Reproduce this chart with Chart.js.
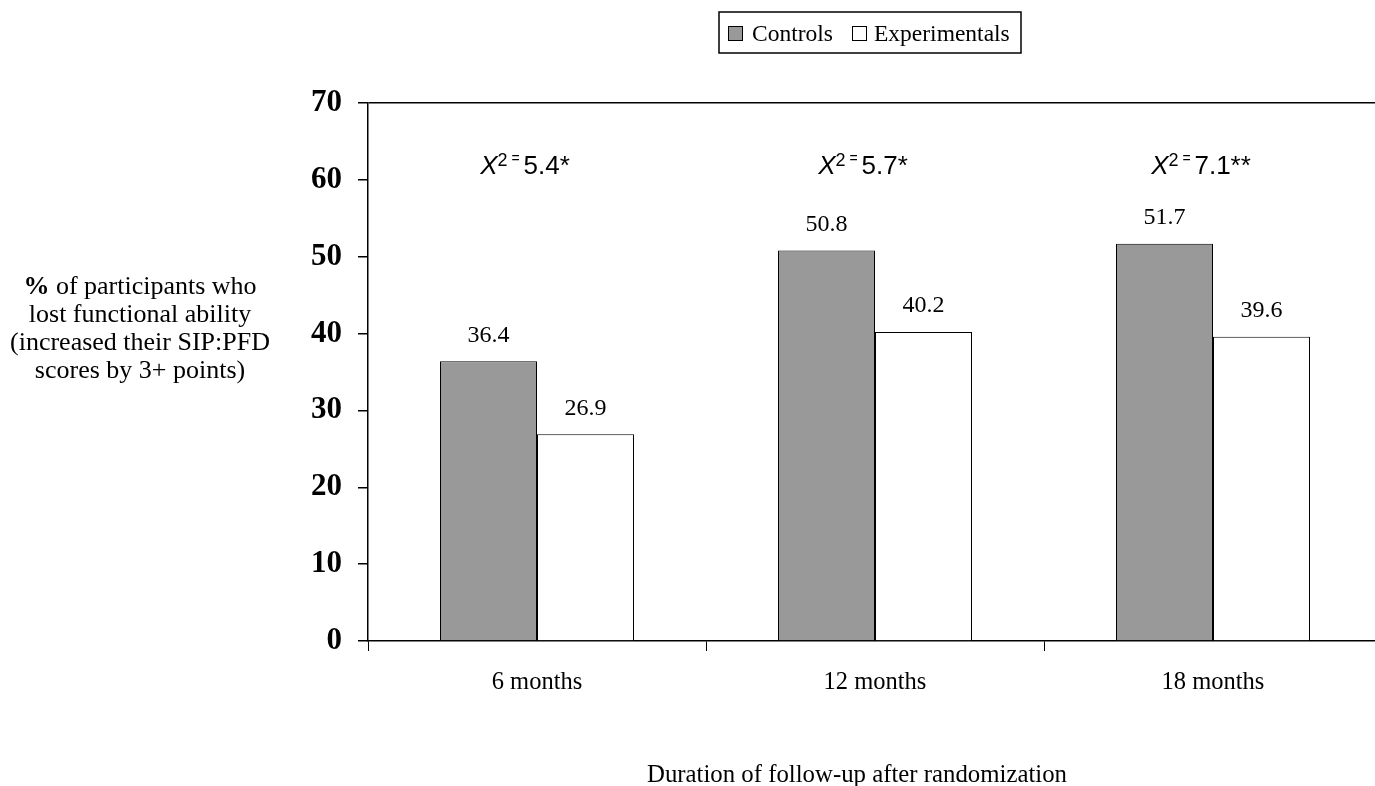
<!DOCTYPE html>
<html>
<head>
<meta charset="utf-8">
<script src="https://cdn.jsdelivr.net/npm/chart.js@4.4.1/dist/chart.umd.min.js"></script>
<style>
  html, body { margin: 0; padding: 0; background: #fff; overflow: hidden; }
  #wrap { width: 1390px; height: 786px; }
</style>
</head>
<body>
<div id="wrap"><canvas id="chart" width="1390" height="786"></canvas></div>
<script>
// Données du graphique
const categories = ['6 months', '12 months', '18 months'];
const controls = [36.4, 50.8, 51.7];
const experimentals = [26.9, 40.2, 39.6];
const chiValues = ['5.4*', '5.7*', '7.1**'];
const yTicks = [0, 10, 20, 30, 40, 50, 60, 70];

const serif = "'Liberation Serif', 'Times New Roman', serif";
const sans = "'Liberation Sans', Arial, sans-serif";

// Dessin des textes additionnels (étiquettes, légende, titres)
const extras = {
    id: 'extras',
    afterDatasetsDraw(chart) {
        const ctx = chart.ctx;
        const x = chart.scales.x;
        ctx.save();
        ctx.fillStyle = '#000';

        // Valeurs au-dessus des barres
        ctx.font = '24px ' + serif;
        ctx.textAlign = 'center';
        ctx.textBaseline = 'middle';
        chart.data.datasets.forEach((ds, di) => {
            chart.getDatasetMeta(di).data.forEach((bar, i) => {
                ctx.fillText(ds.data[i].toFixed(1), bar.x, bar.y - 26);
            });
        });

        // Annotations chi-deux
        chiValues.forEach((val, i) => {
            const cx = x.getPixelForValue(i) - 12;
            const y = 165;
            ctx.textAlign = 'left';
            ctx.textBaseline = 'alphabetic';
            const parts = [
                { t: 'X', f: 'italic 26px ' + sans, dy: 0 },
                { t: '2', f: '18px ' + sans, dy: -8 },
                { t: ' = ', f: '14px ' + sans, dy: -11 },
                { t: val, f: '26px ' + sans, dy: 0 }
            ];
            let w = 0;
            parts.forEach(p => { ctx.font = p.f; p.w = ctx.measureText(p.t).width; w += p.w; });
            let px = cx - w / 2;
            parts.forEach(p => {
                ctx.font = p.f;
                ctx.fillText(p.t, px, y + 9 + p.dy);
                px += p.w;
            });
        });

        // Légende encadrée
        ctx.strokeStyle = '#000';
        ctx.lineWidth = 1.5;
        ctx.strokeRect(719, 12, 302, 41);
        ctx.lineWidth = 1;
        ctx.fillStyle = '#999999';
        ctx.fillRect(728, 26, 14, 14);
        ctx.strokeRect(728.5, 26.5, 14, 14);
        ctx.fillStyle = '#fff';
        ctx.fillRect(852, 26, 14, 14);
        ctx.strokeRect(852.5, 26.5, 14, 14);
        ctx.fillStyle = '#000';
        ctx.font = '23.5px ' + serif;
        ctx.textAlign = 'left';
        ctx.textBaseline = 'middle';
        ctx.fillText('Controls', 752, 35);
        ctx.fillText('Experimentals', 874, 35);

        // Titre de l'axe Y (multi-lignes, % en gras)
        const lines = ['% of participants who', 'lost functional ability', '(increased their SIP:PFD', 'scores by 3+ points)'];
        const fs = '26px ' + serif;
        ctx.textAlign = 'left';
        lines.forEach((line, i) => {
            const ly = 287 + i * 28;
            if (i === 0) {
                ctx.font = 'bold ' + fs;
                const pw = ctx.measureText('%').width;
                ctx.font = fs;
                const rw = ctx.measureText(line.slice(1)).width;
                const sx = 140 - (pw + rw) / 2;
                ctx.font = 'bold ' + fs;
                ctx.fillText('%', sx, ly);
                ctx.font = fs;
                ctx.fillText(line.slice(1), sx + pw, ly);
            } else {
                ctx.font = fs;
                const lw = ctx.measureText(line).width;
                ctx.fillText(line, 140 - lw / 2, ly);
            }
        });

        // Titre de l'axe X
        ctx.font = '24.8px ' + serif;
        ctx.textAlign = 'center';
        ctx.fillText('Duration of follow-up after randomization', 857, 775);
        ctx.restore();
    }
};

new Chart(document.getElementById('chart'), {
    type: 'bar',
    data: {
        labels: categories,
        datasets: [{
            label: 'Controls',
            data: controls,
            backgroundColor: '#999999',
            borderColor: '#000',
            borderWidth: 1
        }, {
            label: 'Experimentals',
            data: experimentals,
            backgroundColor: '#ffffff',
            borderColor: '#000',
            borderWidth: 1
        }]
    },
    options: {
        responsive: false,
        animation: false,
        layout: { padding: { top: 103, right: 8, left: 0, bottom: 0 } },
        datasets: {
            bar: { categoryPercentage: 0.574, barPercentage: 1.0 }
        },
        plugins: {
            legend: { display: false },
            tooltip: { enabled: false }
        },
        scales: {
            x: {
                grid: {
                    offset: true,
                    drawOnChartArea: false,
                    tickLength: 10,
                    tickColor: '#000'
                },
                border: { color: '#000', width: 1.5 },
                ticks: {
                    color: '#000',
                    font: { family: serif, size: 24.5 },
                    padding: 17
                },
                afterFit(scale) { scale.height = 145; }
            },
            y: {
                min: 0,
                max: 70,
                afterBuildTicks(scale) { scale.ticks = yTicks.map(v => ({ value: v })); },
                grid: {
                    color: c => (c.tick && c.tick.value === 70) ? '#000' : 'transparent',
                    lineWidth: 1.5,
                    tickLength: 10,
                    tickColor: '#000'
                },
                border: { color: '#000', width: 1.5 },
                ticks: {
                    color: '#000',
                    font: { family: serif, size: 31, weight: 'bold' },
                    padding: 16
                },
                afterFit(scale) { scale.width = 368; }
            }
        }
    },
    plugins: [extras]
});
</script>
</body>
</html>
